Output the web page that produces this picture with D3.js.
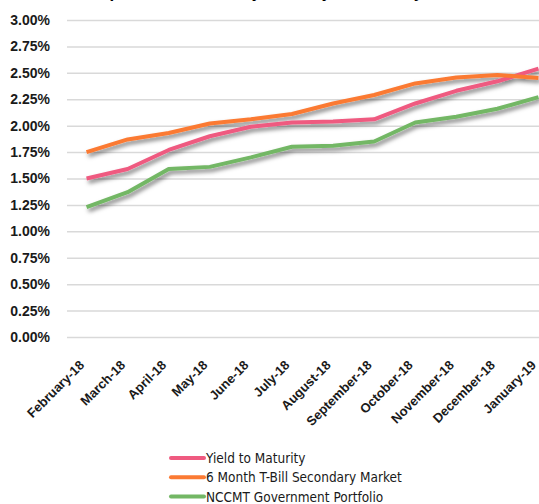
<!DOCTYPE html>
<html>
<head>
<meta charset="utf-8">
<script src="https://cdn.jsdelivr.net/npm/d3@7"></script>
<style>
  body { margin: 0; background: #fff; }
  svg { display: block; font-family: "Liberation Sans Narrow", "DejaVu Sans Condensed", "Liberation Sans", sans-serif; }
</style>
</head>
<body>
<div class="visuals"></div>
<script>
var months = ['February-18','March-18','April-18','May-18','June-18','July-18',
  'August-18','September-18','October-18','November-18','December-18','January-19'];

var yieldToMaturity = [1.50, 1.59, 1.77, 1.90, 1.99, 2.03, 2.04, 2.06, 2.21, 2.33, 2.42, 2.54];
var tBill6Month     = [1.75, 1.87, 1.93, 2.02, 2.06, 2.11, 2.21, 2.29, 2.40, 2.455, 2.48, 2.45];
var nccmtGov        = [1.23, 1.37, 1.59, 1.61, 1.70, 1.80, 1.81, 1.85, 2.03, 2.085, 2.16, 2.27];

var yTicks = [0, 0.25, 0.5, 0.75, 1, 1.25, 1.5, 1.75, 2, 2.25, 2.5, 2.75, 3];

var seriesNames = ['Yield to Maturity', '6 Month T-Bill Secondary Market', 'NCCMT Government Portfolio'];
var seriesColors = ['#ef5a80', '#fb7a33', '#73b765'];

var Chart = (function(){
  return function(selector){
    var width = 539, height = 504;
    var svg = d3.select(selector).append('svg')
      .attr('width', width)
      .attr('height', height);

    var defs = svg.append('defs');
    var f = defs.append('filter').attr('id', 'shadow')
      .attr('x', '-10%').attr('y', '-20%').attr('width', '130%').attr('height', '160%');
    f.append('feDropShadow')
      .attr('dx', 2).attr('dy', 3)
      .attr('stdDeviation', 2)
      .attr('flood-color', '#000')
      .attr('flood-opacity', 0.5);

    var x = d3.scalePoint().domain(months).range([66, 559]).padding(0.5);
    var y = d3.scaleLinear().domain([0, 3]).range([337, 20]);

    // title: only its descenders peek in at the top edge
    svg.append('text')
      .attr('x', 270).attr('y', -2)
      .attr('text-anchor', 'middle')
      .style('font-size', '15px').style('font-weight', 'bold')
      .text('Comparison of Yields by Maturity, Feb-18 to Jan-19');

    var yAxis = svg.append('g').attr('transform', 'translate(67,0)')
      .call(d3.axisLeft(y).tickValues(yTicks).tickSize(-(559 - 67)).tickPadding(17)
        .tickFormat(function(d){ return d.toFixed(2) + '%'; }));
    yAxis.select('.domain').remove();
    yAxis.selectAll('line').attr('stroke', '#d9d9d9').attr('stroke-width', 1.5);
    yAxis.selectAll('text')
      .attr('fill', '#1a1a1a')
      .style('font-size', '14px').style('font-weight', 'bold');

    var xAxis = svg.append('g').attr('transform', 'translate(0,337)')
      .call(d3.axisBottom(x).tickSize(0).tickPadding(0));
    xAxis.select('.domain').remove();
    xAxis.selectAll('text')
      .attr('text-anchor', 'end')
      .attr('x', 0).attr('y', 0).attr('dy', 0)
      .attr('transform', 'translate(-2,29) rotate(-45)')
      .attr('fill', '#1a1a1a')
      .style('font-size', '13px').style('font-weight', 'bold');

    var line = d3.line()
      .x(function(d, i){ return x(months[i]); })
      .y(function(d){ return y(d); });

    var data = [yieldToMaturity, tBill6Month, nccmtGov];
    svg.append('g').attr('filter', 'url(#shadow)')
      .selectAll('path')
      .data(data)
      .enter().append('path')
      .attr('d', line)
      .attr('fill', 'none')
      .attr('stroke', function(d, i){ return seriesColors[i]; })
      .attr('stroke-width', 4)
      .attr('stroke-linejoin', 'round');

    var legend = svg.append('g').selectAll('g')
      .data(seriesNames)
      .enter().append('g')
      .attr('transform', function(d, i){ return 'translate(171,' + (458 + i * 19.3) + ')'; });
    legend.append('line')
      .attr('x1', 0).attr('x2', 33)
      .attr('stroke', function(d, i){ return seriesColors[i]; })
      .attr('stroke-width', 4)
      .attr('stroke-linecap', 'round');
    legend.append('text')
      .attr('x', 35).attr('y', 5)
      .attr('fill', '#1a1a1a')
      .style('font-size', '13.5px')
      .text(function(d){ return d; });
  };
}());

document.addEventListener('DOMContentLoaded', function(){
  new Chart('.visuals');
});
</script>
</body>
</html>
